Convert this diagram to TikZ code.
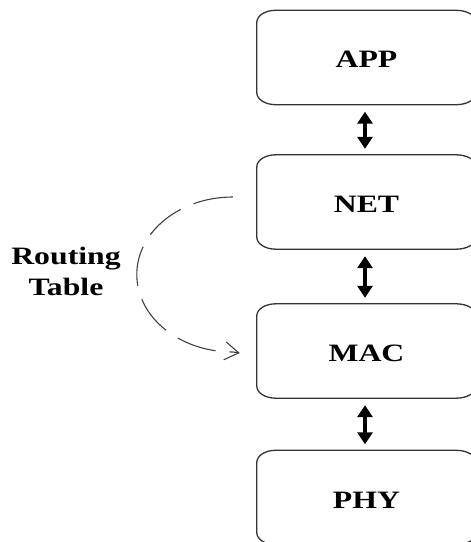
\documentclass[tikz,border=0pt]{standalone}
\usepackage{fontspec}
\setmainfont{Liberation Serif}
\usepackage{graphicx}
\usetikzlibrary{arrows.meta}
\newcommand{\widetxt}[1]{\scalebox{1.27}[1]{#1}}
\begin{document}
\begin{tikzpicture}[x=1pt,y=1pt,
  layer/.style={minimum width=219pt,minimum height=94pt,inner sep=0pt,
    font=\fontsize{25}{30}\selectfont\bfseries,text height=21pt,text depth=0pt},
  boxline/.style={line width=1.3pt,draw=black!80},
  updown/.style={line width=4.5pt,
    {Triangle[length=12pt,width=15pt]}-{Triangle[length=12pt,width=15pt]},
    shorten <=7pt,shorten >=6pt},
  loopline/.style={line width=1.1pt,draw=black!75,dash pattern=on 40pt off 14pt,
    -{Straight Barb[length=14pt,width=18pt]}}]
\useasboundingbox (0,0) rectangle (471,542);
\node[layer] (app) at (366.5,484.5) {\widetxt{APP}};
\node[layer] (net) at (366.5,340) {\widetxt{NET}};
\node[layer] (mac) at (366.5,191) {\widetxt{MAC}};
\node[layer] (phy) at (366.5,44.5) {\widetxt{PHY}};
\foreach \n in {app,net,mac,phy}{
  \draw[boxline] ([yshift=-12pt]\n.north west)
    arc[start angle=180,end angle=90,x radius=19pt,y radius=12pt]
    -- ([xshift=-20pt]\n.north east)
    arc[start angle=90,end angle=0,x radius=20pt,y radius=12pt]
    -- ([yshift=12pt]\n.south east)
    arc[start angle=0,end angle=-90,x radius=20pt,y radius=12pt]
    -- ([xshift=19pt]\n.south west)
    arc[start angle=270,end angle=180,x radius=19pt,y radius=12pt]
    -- cycle;
}
\draw[updown] ([xshift=-1.5pt]app.south) -- ([xshift=-1.5pt]net.north);
\draw[updown] ([xshift=-1.5pt]net.south) -- ([xshift=-1.5pt]mac.north);
\draw[updown] ([xshift=-1.5pt]mac.south) -- ([xshift=-1.5pt]phy.north);
\node[font=\fontsize{25}{31}\selectfont\bfseries,align=center,inner sep=0pt] (rt) at (66,271)
  {\widetxt{Routing}\\\widetxt{Table}};
\coordinate (ls) at ([xshift=-24pt,yshift=5pt]net.west);
\draw[loopline] (ls) arc[start angle=90,end angle=270,x radius=96pt,y radius=77.5pt] -- ++(7,-1);
\end{tikzpicture}
\end{document}
